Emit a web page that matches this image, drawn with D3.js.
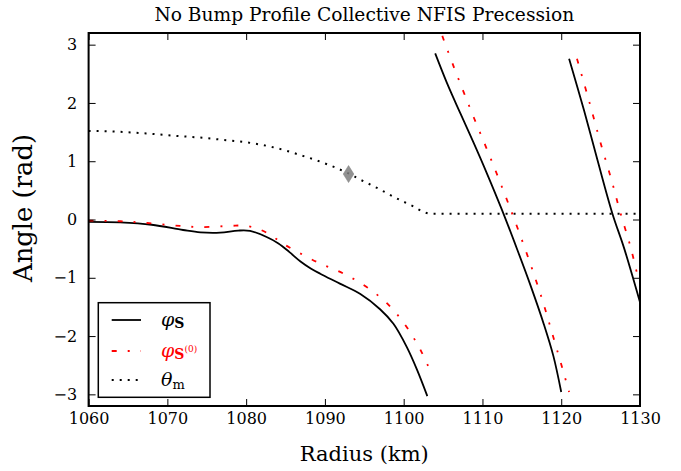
<!DOCTYPE html>
<html><head><meta charset="utf-8">
<script src="https://cdn.jsdelivr.net/npm/d3@7"></script>
<style>
body{margin:0;background:#fff;}
svg text{font-family:"DejaVu Serif","Liberation Serif",serif;fill:#000;}
</style></head>
<body><svg id="c" width="681" height="471" font-family="DejaVu Serif, Liberation Serif, serif"></svg>
<script>
// ---- data ----
const xTicks = [1060,1070,1080,1090,1100,1110,1120,1130];
const yTicks = [-3,-2,-1,0,1,2,3];

const thetaR = [1060,1063,1067.4,1071.6,1074.2,1077.2,1079.2,1081.2,1083.1,1085.1,1087.0,1088.9,1090.8,1093,1094.4,1096.2,1099.6,1101.3,1102.5,1103.4,1130];
const thetaV = [1.52,1.51,1.475,1.43,1.405,1.365,1.338,1.30,1.25,1.18,1.10,1.017,0.92,0.79,0.69,0.57,0.33,0.22,0.13,0.10,0.10];

const phiSeg1R = [1060,1064,1068,1072,1074.2,1076.7,1079.0,1080.5,1082.6,1084.1,1085.5,1086.9,1088.2,1089.4,1091.9,1094.5,1097.0,1098.7,1100.4,1101.7,1103.0];
const phiSeg1V = [-0.04,-0.05,-0.09,-0.18,-0.22,-0.225,-0.19,-0.195,-0.30,-0.41,-0.56,-0.72,-0.84,-0.93,-1.10,-1.28,-1.54,-1.79,-2.19,-2.58,-3.03];
const phiSeg2R = [1104.0,1105.5,1107.2,1108.9,1110.6,1112.4,1114.4,1116.1,1117.8,1119.0,1120.0];
const phiSeg2V = [2.85,2.34,1.82,1.31,0.78,0.19,-0.51,-1.13,-1.80,-2.34,-2.96];
const phiSeg3R = [1121.0,1122.9,1124.6,1126.5,1128.0,1130];
const phiSeg3V = [2.76,1.87,1.02,0.10,-0.50,-1.42];

const phi0Seg1R = [1060,1064,1067.4,1071.6,1074.2,1078,1079.7,1081.4,1083.05,1084.5,1085.9,1089.0,1092.4,1095.3,1097.9,1100.2,1102.1,1103.6];
const phi0Seg1V = [-0.02,-0.03,-0.06,-0.11,-0.13,-0.11,-0.105,-0.155,-0.26,-0.40,-0.51,-0.73,-0.93,-1.16,-1.44,-1.81,-2.23,-2.67];
const phi0Seg2R = [1104.9,1106.3,1107.6,1108.9,1110.4,1111.6,1112.9,1114.0,1115.9,1117.6,1119.0,1120.5,1121.0];
const phi0Seg2V = [3.15,2.64,2.19,1.75,1.26,0.86,0.41,0.02,-0.69,-1.38,-2.02,-2.72,-2.96];
const phi0Seg3R = [1122.0,1123.5,1124.9,1126.4,1127.5,1128.8,1129.7,1130];
const phi0Seg3V = [2.76,2.05,1.36,0.67,0.12,-0.47,-0.96,-1.08];

const markerR = [1093];
const markerV = [0.78];

// ---- drawing ----
const FONT = "DejaVu Serif, Liberation Serif, serif";
const svg = d3.select("#c");
const L=88.6, R=640, T=33, B=406;
const x = d3.scaleLinear().domain([1060,1130]).range([L,R]);
const y = d3.scaleLinear().domain([-3.2,3.2]).range([B,T]);

const zip = (a,b)=>a.map((v,i)=>[v,b[i]]);
const lineM = d3.line().x(d=>x(d[0])).y(d=>y(d[1])).curve(d3.curveMonotoneX);
const lineC = d3.line().x(d=>x(d[0])).y(d=>y(d[1])).curve(d3.curveCatmullRom.alpha(0.5));

svg.append("clipPath").attr("id","clip").append("rect")
  .attr("x",L).attr("y",T).attr("width",R-L).attr("height",B-T);
const g = svg.append("g").attr("clip-path","url(#clip)");

// theta_m dotted
g.append("path").datum(zip(thetaR,thetaV)).attr("d",lineM)
  .attr("fill","none").attr("stroke","#000").attr("stroke-width",2)
  .attr("stroke-dasharray","2,6");

// phi_S solid
[[phiSeg1R,phiSeg1V],[phiSeg2R,phiSeg2V],[phiSeg3R,phiSeg3V]].forEach(([r,v])=>{
  g.append("path").datum(zip(r,v)).attr("d",lineC)
    .attr("fill","none").attr("stroke","#000").attr("stroke-width",1.8);
});
// phi_S0 dash-dot red
[[phi0Seg1R,phi0Seg1V],[phi0Seg2R,phi0Seg2V],[phi0Seg3R,phi0Seg3V]].forEach(([r,v])=>{
  g.append("path").datum(zip(r,v)).attr("d",lineC)
    .attr("fill","none").attr("stroke","#ff0000").attr("stroke-width",1.8)
    .attr("stroke-dasharray","5,11,2,11");
});

// diamond marker
g.selectAll("path.mk").data(zip(markerR,markerV)).enter().append("path")
  .attr("class","mk")
  .attr("d",d=>{const cx=x(d[0]),cy=y(d[1]);return `M${cx},${cy-8.5}L${cx+5.3},${cy}L${cx},${cy+8.5}L${cx-5.3},${cy}Z`;})
  .attr("fill","#7f7f7f").attr("fill-opacity",0.85).attr("stroke","#7f7f7f").attr("stroke-width",0.5);

// axes
function styleAxis(sel){
  sel.attr("font-family",FONT);
  sel.select(".domain").remove();
  sel.selectAll(".tick line").attr("stroke","#000").attr("stroke-width",1);
  sel.selectAll(".tick text").attr("font-family",FONT).attr("font-size","16px").attr("fill","#000");
}
const fmt = d3.format("d");
svg.append("g").attr("transform",`translate(0,${B})`)
  .call(d3.axisBottom(x).tickValues(xTicks).tickFormat(fmt).tickSize(-7).tickPadding(7))
  .call(styleAxis);
svg.append("g").attr("transform",`translate(0,${T})`)
  .call(d3.axisTop(x).tickValues(xTicks).tickFormat("").tickSize(-7))
  .call(styleAxis);
svg.append("g").attr("transform",`translate(${L},0)`)
  .call(d3.axisLeft(y).tickValues(yTicks).tickFormat(fmt).tickSize(-7).tickPadding(11.5))
  .call(styleAxis);
svg.append("g").attr("transform",`translate(${R},0)`)
  .call(d3.axisRight(y).tickValues(yTicks).tickFormat("").tickSize(-7))
  .call(styleAxis);

svg.append("rect").attr("x",L).attr("y",T).attr("width",R-L).attr("height",B-T)
  .attr("fill","none").attr("stroke","#000").attr("stroke-width",2);

function fit(sel, target){
  const n = sel.node(); const fs = parseFloat(sel.attr("font-size"));
  const w = n.getComputedTextLength();
  if (w>0) sel.attr("font-size", (fs*target/w).toFixed(2)+"px");
}

// title & labels
const title = svg.append("text").attr("x",(L+R)/2).attr("y",21).attr("text-anchor","middle")
  .attr("font-family",FONT).attr("font-size","18px").text("No Bump Profile Collective NFIS Precession");
fit(title, 420);

const xl = svg.append("text").attr("x",(L+R)/2).attr("y",461).attr("text-anchor","middle")
  .attr("font-family",FONT).attr("font-size","21px");
xl.append("tspan").text("Radius");
xl.append("tspan").text(" (km)");
fit(xl, 129);

const yl = svg.append("text").attr("transform",`translate(32,208) rotate(-90)`).attr("text-anchor","middle")
  .attr("font-family",FONT).attr("font-size","22px").text("Angle (rad)");
fit(yl, 148);

// legend
const lg = svg.append("g").attr("font-family",FONT);
lg.append("rect").attr("x",98.3).attr("y",302.7).attr("width",111.7).attr("height",94.6)
  .attr("fill","#fff").attr("stroke","#000").attr("stroke-width",1.5);
const rows = [
  {y:320, stroke:"#000", dash:null, w:1.8},
  {y:351, stroke:"#ff0000", dash:"5,11,2,11", w:1.8},
  {y:380, stroke:"#000", dash:"2,6", w:2}
];
rows.forEach(r=>{
  const l = lg.append("line").attr("x1",111.7).attr("x2",141).attr("y1",r.y).attr("y2",r.y)
    .attr("stroke",r.stroke).attr("stroke-width",r.w);
  if(r.dash) l.attr("stroke-dasharray",r.dash);
});
// phi_S
let t = lg.append("text").attr("x",161).attr("y",326).attr("font-size","19px");
t.append("tspan").attr("font-style","italic").text("φ");
t.append("tspan").attr("dy",2).attr("font-size","14px").attr("font-weight","bold").text("S");
// phi_S(0)
t = lg.append("text").attr("x",161).attr("y",357).attr("font-size","19px").style("fill","#ff0000");
t.append("tspan").attr("font-style","italic").text("φ");
t.append("tspan").attr("dy",2).attr("font-size","14px").attr("font-weight","bold").text("S");
t.append("tspan").attr("dy",-7).attr("font-size","9px").text("(0)");
// theta_m
t = lg.append("text").attr("x",161).attr("y",386).attr("font-size","19px");
t.append("tspan").attr("font-style","italic").text("θ");
t.append("tspan").attr("dy",3).attr("font-size","13px").text("m");
</script>
</body></html>
